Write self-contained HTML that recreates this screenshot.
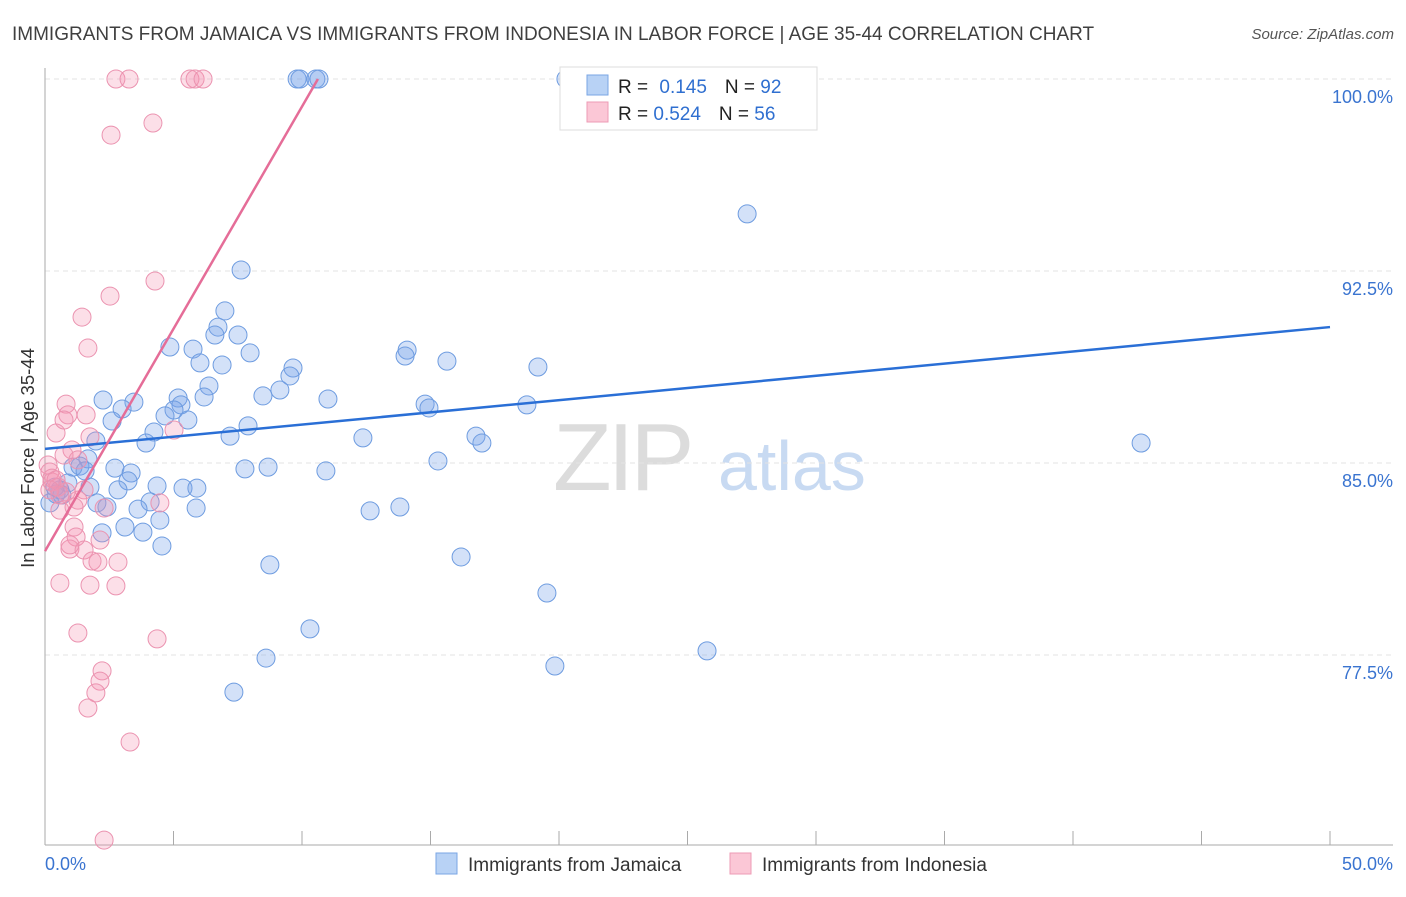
<!DOCTYPE html>
<html><head><meta charset="utf-8"><style>
body{margin:0;background:#fff;font-family:"Liberation Sans",sans-serif}
svg text{font-family:"Liberation Sans",sans-serif}
</style></head><body>
<svg id="chart" width="1406" height="892" viewBox="0 0 1406 892">
<text x="12" y="40" font-size="19" fill="#3f3f3f">IMMIGRANTS FROM JAMAICA VS IMMIGRANTS FROM INDONESIA IN LABOR FORCE | AGE 35-44 CORRELATION CHART</text>
<text x="1394" y="39" font-size="15" font-style="italic" fill="#555" text-anchor="end">Source: ZipAtlas.com</text>
<g>
<text x="553" y="490" font-size="96" font-family="Liberation Serif" fill="#dcdcdc" letter-spacing="-4">ZIP</text>
<text x="718" y="490" font-size="70" fill="#c8daf2">atlas</text>
</g>
<g id="grid"></g>
<g id="axes"></g>
<g id="pts"></g>
<g id="lines"></g>
<text transform="translate(34,458) rotate(-90)" font-size="18.5" fill="#333" text-anchor="middle">In Labor Force | Age 35-44</text>
<g>
<rect x="560" y="67" width="257" height="63" fill="#fff" stroke="#ddd"/>
<rect x="587" y="75" width="21" height="20" fill="#b8d2f5" stroke="#7aa6e4"/>
<rect x="587" y="102" width="21" height="20" fill="#fbc7d6" stroke="#ee9bb5"/>
<text x="618" y="93" font-size="19" fill="#222">R = <tspan fill="#2f6fd0" dx="6">0.145</tspan><tspan dx="18">N = </tspan><tspan fill="#2f6fd0">92</tspan></text>
<text x="618" y="120" font-size="19" fill="#222">R = <tspan fill="#2f6fd0">0.524</tspan><tspan dx="18">N = </tspan><tspan fill="#2f6fd0">56</tspan></text>
</g>
<g>
<rect x="436" y="853" width="21" height="21" fill="#b8d2f5" stroke="#7aa6e4"/>
<text x="468" y="871" font-size="19" fill="#333">Immigrants from Jamaica</text>
<rect x="730" y="853" width="21" height="21" fill="#fbc7d6" stroke="#ee9bb5"/>
<text x="762" y="871" font-size="19" fill="#333">Immigrants from Indonesia</text>
</g>
</svg>
<script>
const yTicks=[100,92.5,85,77.5];
const yTickLabels=["100.0%","92.5%","85.0%","77.5%"];
const xTickLabels=["0.0%","50.0%"];
const jamX=[20.27,9.81,9.92,10.54,10.66,27.32,7.63,7.0,6.73,6.61,7.51,4.86,5.76,7.98,14.09,14.01,15.64,19.18,6.03,6.89,9.65,9.53,6.38,9.14,8.48,6.19,5.18,2.26,3.46,11.01,14.79,14.94,18.75,3.0,5.29,5.02,5.56,4.67,2.61,7.9,4.24,7.2,1.98,3.93,12.37,16.77,17.0,42.65,1.67,1.09,1.36,1.56,2.72,3.35,7.78,8.68,10.93,15.29,3.23,4.36,5.37,5.91,1.75,2.84,0.89,0.58,0.43,4.09,2.02,2.41,3.62,5.88,4.47,3.11,3.81,2.22,13.81,12.65,4.55,8.75,16.19,19.53,10.31,8.6,19.84,25.76,7.35,0.19,0.39,0.66];
const jamY=[100,100,100,100,100,94.73,92.54,90.94,90.31,90.0,90.0,89.53,89.45,89.3,89.41,89.18,88.98,88.75,88.91,88.83,88.71,88.4,88.01,87.85,87.62,87.58,87.54,87.46,87.38,87.5,87.3,87.15,87.27,87.11,87.27,87.07,86.68,86.84,86.64,86.45,86.21,86.05,85.86,85.78,85.98,86.05,85.78,85.78,85.16,84.84,84.88,84.69,84.8,84.61,84.77,84.84,84.69,85.08,84.3,84.1,84.02,84.02,84.06,83.95,84.22,83.95,83.79,83.48,83.44,83.28,83.2,83.24,82.77,82.5,82.3,82.27,83.28,83.13,81.76,81.02,81.33,79.92,78.52,77.38,77.07,77.66,76.05,83.44,84.06,83.75];
const indX=[2.76,3.27,5.64,5.84,6.15,4.2,2.57,4.28,2.53,1.44,1.67,0.82,0.89,0.43,1.75,5.02,1.05,0.74,0.12,0.19,0.27,0.51,0.82,1.52,1.28,4.47,0.58,1.13,2.3,1.13,1.21,2.14,0.97,1.52,1.83,2.84,2.06,0.58,1.75,2.76,1.28,4.36,2.22,2.14,1.98,1.67,3.31,2.3,0.27,0.43,0.58,1.6,0.74,1.28,0.19,0.97];
const indY=[100,100,100,100,100,98.28,97.81,92.11,91.52,90.7,89.49,87.3,86.88,86.17,86.02,86.29,85.51,85.31,84.92,84.65,84.26,84.06,83.87,83.95,83.55,83.44,83.16,83.28,83.24,82.5,82.11,81.99,81.64,81.6,81.17,81.13,81.13,80.31,80.23,80.2,78.36,78.13,76.88,76.48,76.02,75.43,74.1,70.27,84.41,84.34,83.75,86.88,86.68,85.12,83.95,81.8];
const jamTrend=[[0,85.55],[50,90.31]];
const indTrend=[[0,81.56],[10.62,100]];
const NS="http://www.w3.org/2000/svg";
const xs=v=>45+v*25.7, ys=v=>79+(100-v)*25.6;
function mk(tag,attrs,parent){const e=document.createElementNS(NS,tag);for(const k in attrs)e.setAttribute(k,attrs[k]);document.getElementById(parent).appendChild(e);return e;}
yTicks.forEach((t,i)=>{
 const l=mk('line',{x1:45,x2:1393,y1:ys(t),y2:ys(t),stroke:'#e3e3e3','stroke-dasharray':'5,4'},'grid');
 
 
 const tx=mk('text',{x:1393,y:ys(t)+24,'font-size':18,fill:'#3a74d0','text-anchor':'end'},'grid');
 tx.textContent=yTickLabels[i];
 
 
});
let ax=mk('line',{x1:45,x2:45,y1:68,y2:845,stroke:'#aaa'},'axes');


ax=mk('line',{x1:45,x2:1393,y1:845,y2:845,stroke:'#aaa'},'axes');


for(let v=5;v<=50;v+=5){const t=mk('line',{x1:xs(v),x2:xs(v),y1:831,y2:845,stroke:'#aaa'},'axes');
 
 }
[[0,'start'],[50,'end']].forEach((d,i)=>{const t=mk('text',{x:i?1393:45,y:870,'font-size':18,fill:'#3a74d0','text-anchor':d[1]},'axes');t.textContent=xTickLabels[i];
 
 });
jamX.forEach((x,i)=>{const c=mk('circle',{cx:xs(x),cy:ys(jamY[i]),r:9,fill:'rgba(120,165,235,0.33)',stroke:'#6e9ce0','stroke-width':1},'pts');
 
 });
indX.forEach((x,i)=>{const c=mk('circle',{cx:xs(x),cy:ys(indY[i]),r:9,fill:'rgba(245,150,180,0.3)',stroke:'#eb93b0','stroke-width':1},'pts');
 
 });
let tl=mk('line',{x1:xs(jamTrend[0][0]),y1:ys(jamTrend[0][1]),x2:xs(jamTrend[1][0]),y2:ys(jamTrend[1][1]),stroke:'#2a6fd6','stroke-width':2.5},'lines');


tl=mk('line',{x1:xs(indTrend[0][0]),y1:ys(indTrend[0][1]),x2:xs(indTrend[1][0]),y2:ys(indTrend[1][1]),stroke:'#e56d98','stroke-width':2.5},'lines');


</script>
</body></html>
